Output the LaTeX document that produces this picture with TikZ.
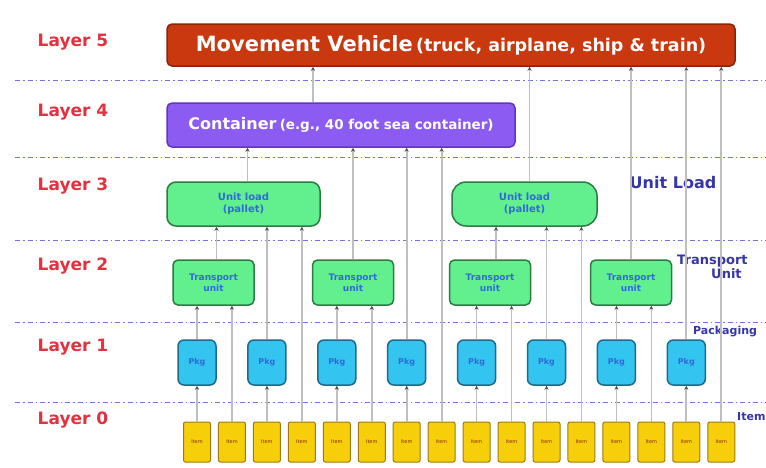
\documentclass[tikz,border=0pt]{standalone}
\usepackage{fontspec}
\setmainfont{DejaVu Sans}
\usepackage{xcolor}
\usetikzlibrary{positioning,arrows.meta}

\definecolor{layerred}{HTML}{E3313F}
\definecolor{vehred}{HTML}{C9380F}
\definecolor{vehdark}{HTML}{8A2508}
\definecolor{contpurple}{HTML}{8C5CF2}
\definecolor{contdark}{HTML}{6233C8}
\definecolor{loadgreen}{HTML}{62F08F}
\definecolor{loaddark}{HTML}{2E7A45}
\definecolor{pkgcyan}{HTML}{33C4F0}
\definecolor{pkgdark}{HTML}{1F6A8C}
\definecolor{itemyellow}{HTML}{F6CF0A}
\definecolor{itemdark}{HTML}{A07A10}
\definecolor{dashblue}{HTML}{7474E0}
\definecolor{textblue}{HTML}{2F6AD8}
\definecolor{sideblue}{HTML}{3636A8}

\tikzset{
  box/.style={draw, rounded corners=5pt, line width=1.5pt, align=center, inner sep=0pt},
  vehicle/.style={box, fill=vehred, draw=vehdark, text=white, minimum width=568pt, minimum height=42pt},
  container/.style={box, fill=contpurple, draw=contdark, text=white, minimum width=348pt, minimum height=44pt},
  unitload/.style={box, fill=loadgreen, draw=loaddark, text=textblue, rounded corners=9pt, minimum height=44pt,
    font=\bfseries\fontsize{10}{12}\selectfont},
  transport/.style={box, fill=loadgreen, draw=loaddark, text=textblue, minimum width=81pt, minimum height=45pt,
    font=\bfseries\fontsize{9}{11}\selectfont},
  pkg/.style={box, fill=pkgcyan, draw=pkgdark, text=textblue, rounded corners=6pt, minimum width=38pt, minimum height=45pt,
    font=\bfseries\fontsize{8}{9}\selectfont},
  item/.style={box, fill=itemyellow, draw=itemdark, text=vehdark, rounded corners=2pt, line width=1pt,
    minimum width=27pt, minimum height=40pt, font=\fontsize{5}{6}\selectfont},
  link/.style={draw=gray!50, line width=1.7pt, -{Stealth[length=4pt,width=4pt,color=black!70]}},
  layerline/.style={draw=dashblue, line width=1pt, dash pattern=on 5pt off 3pt on 1.5pt off 3pt},
  layerlabel/.style={text=layerred, font=\bfseries\fontsize{17}{19}\selectfont},
  sidelabel/.style={text=sideblue, font=\bfseries\fontsize{13}{14}\selectfont, align=center, inner sep=0pt}
}

\begin{document}
\begin{tikzpicture}[x=1pt,y=-1pt]
    \useasboundingbox[fill=white] (0,0) rectangle (766,467);

    % layer separators
    \foreach \y in {80,157,240,322,402}
        \draw[layerline] (15,\y) -- (766,\y);

    \foreach \n/\y in {5/42,4/112,3/186,2/266,1/347,0/420}
        \node[layerlabel] (layer\n) at (73,\y) {Layer \n};

    % Layer 5 and 4
    \node[vehicle] (vehicle) at (451,45) {{\bfseries\fontsize{21}{24}\selectfont Movement Vehicle} {\bfseries\fontsize{17.5}{20}\selectfont(truck, airplane, ship \& train)}};
    \node[container] (container) at (341,125) {{\bfseries\fontsize{16}{18}\selectfont Container} {\bfseries\fontsize{13.5}{15}\selectfont(e.g., 40 foot sea container)}};

    % Layer 3
    \node[unitload, minimum width=153pt] (ul1) at (243.5,204) {Unit load\\(pallet)};
    \node[unitload, minimum width=145pt, rounded corners=14pt] (ul2) at (524.5,204) {Unit load\\(pallet)};

    % Layer 2
    \foreach \i/\x in {1/213.5,2/353,3/490,4/631}
        \node[transport] (tu\i) at (\x,282.5) {Transport\\unit};

    % Layer 0 and 1
    \foreach \i in {1,...,16}
        \node[item] (item\i) at ({197+(\i-1)*34.95},442) {Item};
    \foreach \i in {1,...,8}
        \node[pkg] (pkg\i) at ({197+(\i-1)*69.9},362.5) {Pkg};

    % side names
    \node[sidelabel, font=\bfseries\fontsize{16}{18}\selectfont] (ulname) at (673,183) {Unit Load};
    \node[sidelabel, anchor=north west] (tuname) at (677,255) {Transport\\\hspace*{28pt}Unit};
    \node[sidelabel, anchor=west, font=\bfseries\fontsize{11}{12}\selectfont] (pkgname) at (693,332) {Packaging};
    \node[sidelabel, anchor=west, font=\bfseries\fontsize{11}{12}\selectfont] (itemname) at (737,417) {Item};

    % items into packages
    \foreach \i in {1,...,8} {
        \pgfmathtruncatemacro{\k}{2*\i-1}
        \draw[link] (item\k.north) -- (pkg\i.south);
    }

    % into transport units
    \foreach \t/\p/\m in {1/1/2,2/3/6,3/5/10,4/7/14} {
        \draw[link] (pkg\p.north) -- (pkg\p.north |- tu\t.south);
        \draw[link] (item\m.north) -- (item\m.north |- tu\t.south);
    }

    % into unit loads
    \draw[link] ([xshift=3pt]tu1.north) -- ([xshift=3pt]tu1.north |- ul1.south);
    \draw[link] (pkg2.north) -- (pkg2.north |- ul1.south);
    \draw[link] (item4.north) -- (item4.north |- ul1.south);
    \draw[link] ([xshift=6pt]tu3.north) -- ([xshift=6pt]tu3.north |- ul2.south);
    \draw[link] (pkg6.north) -- (pkg6.north |- ul2.south);
    \draw[link] (item12.north) -- (item12.north |- ul2.south);

    % into the container
    \draw[link] ([xshift=4pt]ul1.north) -- ([xshift=4pt]ul1.north |- container.south);
    \draw[link] (tu2.north) -- (tu2.north |- container.south);
    \draw[link] (pkg4.north) -- (pkg4.north |- container.south);
    \draw[link] (item8.north) -- (item8.north |- container.south);

    % into the vehicle
    \draw[link] ([xshift=-28pt]container.north) -- ([xshift=-28pt]container.north |- vehicle.south);
    \draw[link] ([xshift=5pt]ul2.north) -- ([xshift=5pt]ul2.north |- vehicle.south);
    \draw[link] (tu4.north) -- (tu4.north |- vehicle.south);
    \draw[link] (pkg8.north) -- (pkg8.north |- vehicle.south);
    \draw[link] (item16.north) -- (item16.north |- vehicle.south);
\end{tikzpicture}
\end{document}
